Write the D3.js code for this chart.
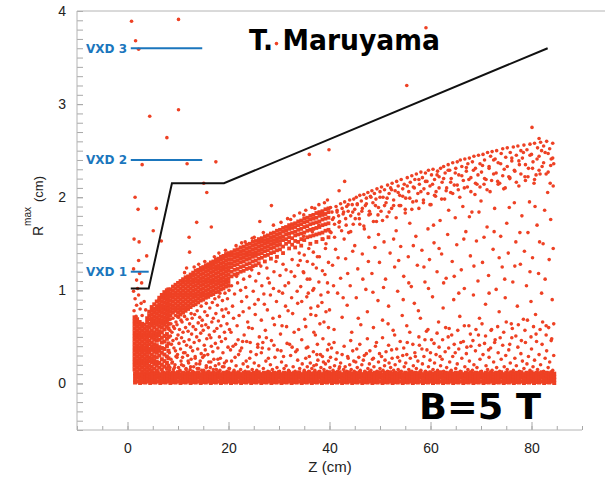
<!DOCTYPE html>
<html><head><meta charset="utf-8">
<script src="https://cdn.jsdelivr.net/npm/d3@7"></script>
<style>html,body{margin:0;padding:0;background:#fff;}svg{display:block;}</style>
</head><body>
<svg id="chart" width="605" height="477"></svg>
<script>
// ---------------- DATA ----------------
const xTickValues = [0, 20, 40, 60, 80];
const yTickValues = [0, 1, 2, 3, 4];
const layerNames = ["VXD 1", "VXD 2", "VXD 3"];
const layerRadii = [1.2, 2.4, 3.6];
const layerZStart = [0.65, 0.65, 0.65];
const layerZEnd = [4.2, 14.8, 14.8];
const boundaryZ = [0.65, 4.2, 8.8, 19.1, 83.2];
const boundaryR = [1.02, 1.02, 2.15, 2.15, 3.6];

// column format: [z, r1, r2, ...]
const bandColumns = [
[1.5,.01,.04,.08,.11],[2,.02,.06,.09,.12],[2.5,.005,.035,.07,.1],[3,.015,.05,.085,.115],[3.5,.01,.045,.075,.11],[4,.02,.055,.09,.12],[4.5,.005,.04,.07,.105],[5,.015,.05,.08,.115],
[5.5,.01,.04,.08,.11],[6,.02,.06,.09,.12],[6.5,.005,.035,.07,.1],[7,.015,.05,.085,.115],[7.5,.01,.045,.075,.11],[8,.02,.055,.09,.12],[8.5,.005,.04,.07,.105],[9,.015,.05,.08,.115],
[9.5,.01,.04,.08,.11],[10,.02,.06,.09,.12],[10.5,.005,.035,.07,.1],[11,.015,.05,.085,.115],[11.5,.01,.045,.075,.11],[12,.02,.055,.09,.12],[12.5,.005,.04,.07,.105],[13,.015,.05,.08,.115],
[13.5,.01,.04,.08,.11],[14,.02,.06,.09,.12],[14.5,.005,.035,.07,.1],[15,.015,.05,.085,.115],[15.5,.01,.045,.075,.11],[16,.02,.055,.09,.12],[16.5,.005,.04,.07,.105],[17,.015,.05,.08,.115],
[17.5,.01,.04,.08,.11],[18,.02,.06,.09,.12],[18.5,.005,.035,.07,.1],[19,.015,.05,.085,.115],[19.5,.01,.045,.075,.11],[20,.02,.055,.09,.12],[20.5,.005,.04,.07,.105],[21,.015,.05,.08,.115],
[21.5,.01,.04,.08,.11],[22,.02,.06,.09,.12],[22.5,.005,.035,.07,.1],[23,.015,.05,.085,.115],[23.5,.01,.045,.075,.11],[24,.02,.055,.09,.12],[24.5,.005,.04,.07,.105],[25,.015,.05,.08,.115],
[25.5,.01,.04,.08,.11],[26,.02,.06,.09,.12],[26.5,.005,.035,.07,.1],[27,.015,.05,.085,.115],[27.5,.01,.045,.075,.11],[28,.02,.055,.09,.12],[28.5,.005,.04,.07,.105],[29,.015,.05,.08,.115],
[29.5,.01,.04,.08,.11],[30,.02,.06,.09,.12],[30.5,.005,.035,.07,.1],[31,.015,.05,.085,.115],[31.5,.01,.045,.075,.11],[32,.02,.055,.09,.12],[32.5,.005,.04,.07,.105],[33,.015,.05,.08,.115],
[33.5,.01,.04,.08,.11],[34,.02,.06,.09,.12],[34.5,.005,.035,.07,.1],[35,.015,.05,.085,.115],[35.5,.01,.045,.075,.11],[36,.02,.055,.09,.12],[36.5,.005,.04,.07,.105],[37,.015,.05,.08,.115],
[37.5,.01,.04,.08,.11],[38,.02,.06,.09,.12],[38.5,.005,.035,.07,.1],[39,.015,.05,.085,.115],[39.5,.01,.045,.075,.11],[40,.02,.055,.09,.12],[40.5,.005,.04,.07,.105],[41,.015,.05,.08,.115],
[41.5,.01,.04,.08,.11],[42,.02,.06,.09,.12],[42.5,.005,.035,.07,.1],[43,.015,.05,.085,.115],[43.5,.01,.045,.075,.11],[44,.02,.055,.09,.12],[44.5,.005,.04,.07,.105],[45,.015,.05,.08,.115],
[45.5,.01,.04,.08,.11],[46,.02,.06,.09,.12],[46.5,.005,.035,.07,.1],[47,.015,.05,.085,.115],[47.5,.01,.045,.075,.11],[48,.02,.055,.09,.12],[48.5,.005,.04,.07,.105],[49,.015,.05,.08,.115],
[49.5,.01,.04,.08,.11],[50,.02,.06,.09,.12],[50.5,.005,.035,.07,.1],[51,.015,.05,.085,.115],[51.5,.01,.045,.075,.11],[52,.02,.055,.09,.12],[52.5,.005,.04,.07,.105],[53,.015,.05,.08,.115],
[53.5,.01,.04,.08,.11],[54,.02,.06,.09,.12],[54.5,.005,.035,.07,.1],[55,.015,.05,.085,.115],[55.5,.01,.045,.075,.11],[56,.02,.055,.09,.12],[56.5,.005,.04,.07,.105],[57,.015,.05,.08,.115],
[57.5,.01,.04,.08,.11],[58,.02,.06,.09,.12],[58.5,.005,.035,.07,.1],[59,.015,.05,.085,.115],[59.5,.01,.045,.075,.11],[60,.02,.055,.09,.12],[60.5,.005,.04,.07,.105],[61,.015,.05,.08,.115],
[61.5,.01,.04,.08,.11],[62,.02,.06,.09,.12],[62.5,.005,.035,.07,.1],[63,.015,.05,.085,.115],[63.5,.01,.045,.075,.11],[64,.02,.055,.09,.12],[64.5,.005,.04,.07,.105],[65,.015,.05,.08,.115],
[65.5,.01,.04,.08,.11],[66,.02,.06,.09,.12],[66.5,.005,.035,.07,.1],[67,.015,.05,.085,.115],[67.5,.01,.045,.075,.11],[68,.02,.055,.09,.12],[68.5,.005,.04,.07,.105],[69,.015,.05,.08,.115],
[69.5,.01,.04,.08,.11],[70,.02,.06,.09,.12],[70.5,.005,.035,.07,.1],[71,.015,.05,.085,.115],[71.5,.01,.045,.075,.11],[72,.02,.055,.09,.12],[72.5,.005,.04,.07,.105],[73,.015,.05,.08,.115],
[73.5,.01,.04,.08,.11],[74,.02,.06,.09,.12],[74.5,.005,.035,.07,.1],[75,.015,.05,.085,.115],[75.5,.01,.045,.075,.11],[76,.02,.055,.09,.12],[76.5,.005,.04,.07,.105],[77,.015,.05,.08,.115],
[77.5,.01,.04,.08,.11],[78,.02,.06,.09,.12],[78.5,.005,.035,.07,.1],[79,.015,.05,.085,.115],[79.5,.01,.045,.075,.11],[80,.02,.055,.09,.12],[80.5,.005,.04,.07,.105],[81,.015,.05,.08,.115],
[81.5,.01,.04,.08,.11],[82,.02,.06,.09,.12],[82.5,.005,.035,.07,.1],[83,.015,.05,.085,.115],[83.5,.01,.045,.075,.11],[84,.02,.055,.09,.12],[84.5,.005,.04,.07,.105]
];

const coreColumns = [
[1.4,.15,.19,.23,.27,.31,.35,.39,.43,.47,.51,.55,.59,.63,.67,.71],
[1.9,.13,.17,.21,.25,.29,.33,.37,.41,.45,.49,.53,.57,.61,.65,.69],
[2.4,.15,.19,.23,.27,.31,.35,.39,.43,.47,.51,.55,.59,.63,.66],
[2.9,.13,.17,.21,.25,.29,.33,.37,.41,.45,.49,.53,.57,.61,.64],
[3.4,.15,.19,.23,.27,.31,.35,.39,.43,.47,.51,.55,.59,.63],
[3.9,.13,.17,.21,.25,.29,.33,.37,.41,.45,.49,.53,.57,.61,.66,.70],
[4.3,.15,.19,.24,.28,.33,.37,.42,.46,.51,.55,.60,.64,.69,.73,.77],
[4.8,.14,.18,.23,.27,.31,.36,.40,.44,.49,.53,.57,.62,.66,.70,.74,.78,.82],
[5.3,.16,.21,.25,.29,.34,.38,.42,.47,.51,.55,.60,.64,.68,.72,.76,.80,.85],
[5.8,.14,.19,.23,.28,.33,.37,.41,.46,.50,.54,.58,.63,.67,.71,.75,.79,.83,.88],
[6.3,.17,.22,.30,.35,.39,.47,.52,.56,.61,.65,.69,.73,.77,.81,.85,.89,.92],
[6.8,.15,.20,.26,.33,.38,.44,.49,.55,.60,.64,.68,.72,.76,.80,.84,.88,.92,.95],
[7.3,.18,.24,.31,.37,.45,.51,.58,.63,.67,.71,.75,.79,.83,.87,.91,.95,.98],
[7.8,.16,.22,.29,.40,.48,.53,.61,.66,.70,.74,.78,.82,.86,.90,.94,.98,1.00],
[8.1,.19,.27,.35,.43,.50,.59,.64,.69,.73,.77,.81,.85,.89,.93,.97,1.01]
];

const envelopeColumns = [
[8.5,.73,.77,.81,.85,.89,.93,.97,1.01],
[9,.76,.80,.84,.88,.92,.96,1.00,1.04],
[9.5,.78,.82,.86,.90,.94,.98,1.02,1.06],
[10,.72,.76,.80,.84,.88,.92,.96,1.00,1.04,1.08],
[10.5,.74,.78,.82,.86,.90,.94,.98,1.02,1.06,1.10],
[11,.76,.80,.84,.88,.92,.96,1.00,1.04,1.08,1.12],
[11.5,.78,.82,.86,.90,.94,.98,1.02,1.06,1.10,1.14],
[12,.80,.84,.88,.92,.96,1.00,1.04,1.08,1.12,1.15],
[12.5,.82,.86,.90,.94,.98,1.02,1.06,1.10,1.14,1.17],
[13,.84,.88,.92,.96,1.00,1.04,1.08,1.12,1.16,1.19],
[13.5,.85,.89,.93,.97,1.01,1.05,1.09,1.13,1.17,1.21],
[14,.87,.91,.95,.99,1.03,1.07,1.11,1.15,1.19,1.22],
[14.5,.89,.93,.97,1.01,1.05,1.09,1.13,1.17,1.21,1.24],
[15,.90,.94,.98,1.02,1.06,1.10,1.14,1.18,1.22,1.25],
[15.5,.92,.96,1.00,1.04,1.08,1.12,1.16,1.20,1.24,1.27],
[16,.93,.97,1.01,1.05,1.09,1.13,1.17,1.21,1.25,1.28],
[16.5,.95,.99,1.03,1.07,1.11,1.15,1.19,1.23,1.27,1.30],
[17,.96,1.00,1.04,1.08,1.12,1.16,1.20,1.24,1.28,1.31],
[17.5,.98,1.02,1.06,1.10,1.14,1.18,1.22,1.26,1.30,1.33],
[18,.99,1.03,1.07,1.11,1.15,1.19,1.23,1.27,1.31,1.34],
[18.5,1.01,1.05,1.09,1.13,1.17,1.21,1.25,1.29,1.33,1.36],
[19,1.02,1.06,1.10,1.14,1.18,1.22,1.26,1.30,1.34,1.37],
[19.5,1.04,1.08,1.12,1.16,1.20,1.24,1.28,1.32,1.36,1.39],
[20,1.05,1.09,1.13,1.17,1.21,1.25,1.29,1.33,1.37,1.40],
[20.6,1.15,1.20,1.25,1.29,1.33,1.37,1.41],
[21.2,1.17,1.22,1.27,1.31,1.35,1.39,1.43],
[21.8,1.18,1.23,1.28,1.32,1.36,1.40,1.44],
[22.4,1.20,1.25,1.30,1.34,1.38,1.42,1.46],
[23,1.21,1.26,1.31,1.35,1.39,1.43,1.47],
[23.6,1.23,1.28,1.33,1.37,1.41,1.45,1.49],
[24.2,1.24,1.29,1.34,1.38,1.42,1.46,1.50],
[24.8,1.26,1.31,1.36,1.40,1.44,1.48,1.52],
[25.4,1.27,1.32,1.37,1.41,1.45,1.49,1.53],
[26,1.29,1.34,1.39,1.43,1.47,1.51,1.55],
[26.6,1.35,1.40,1.44,1.48,1.52,1.56],
[27.2,1.31,1.37,1.42,1.46,1.50,1.54,1.58],
[27.8,1.38,1.43,1.47,1.51,1.55,1.59],
[28.4,1.34,1.40,1.45,1.49,1.53,1.57,1.61],
[29,1.41,1.46,1.50,1.54,1.58,1.62],
[29.6,1.36,1.43,1.48,1.52,1.56,1.60,1.64],
[30.2,1.44,1.49,1.53,1.57,1.61,1.65],
[30.8,1.40,1.47,1.54,1.58,1.63,1.67],
[31.4,1.50,1.55,1.60,1.64,1.68],
[32,1.45,1.52,1.57,1.61,1.66,1.70],
[32.6,1.49,1.56,1.62,1.67,1.71],
[33.2,1.46,1.53,1.59,1.63,1.68,1.72],
[33.8,1.52,1.60,1.65,1.70,1.74],
[34.4,1.48,1.55,1.61,1.66,1.71,1.75],
[35,1.54,1.62,1.68,1.73,1.77],
[35.6,1.57,1.64,1.69,1.74,1.78],
[36.2,1.50,1.58,1.65,1.71,1.76,1.80],
[36.8,1.59,1.66,1.72,1.77,1.81],
[37.4,1.52,1.60,1.67,1.73,1.78,1.83],
[38,1.61,1.68,1.74,1.80,1.84],
[38.6,1.55,1.62,1.70,1.76,1.81,1.85],
[39.2,1.64,1.71,1.77,1.82,1.87],
[39.8,1.57,1.65,1.72,1.78,1.84,1.88]
];

// flat pairs: z, r, z, r, ...
const columnTopPoints = [1.3,.78, 1.8,.84, 2.5,.80, 1.5,.91, 2.9,.73, 2.2,.95, 3.3,.88, 1.2,.99, 2.7,.86, 1.7,.72, 3.6,.79, 2.0,1.02];

const edgePoints = [
11.3,1.19, 13.2,1.25, 15.3,1.31, 17.2,1.36, 19.4,1.43, 21.5,1.48, 23.3,1.52, 25.1,1.57, 26.9,1.62, 14.1,1.28,
18.1,1.40, 22.6,1.51, 24.7,1.56, 28.9,1.70, 30.4,1.73, 31.7,1.77, 33.0,1.80, 34.1,1.83, 35.3,1.86, 36.5,1.89,
37.9,1.92, 39.0,1.94, 39.6,1.97, 32.3,1.76, 34.9,1.81, 37.1,1.88
];

const innerPoints = [
8.4,.17, 8.6,.26, 8.3,.33, 8.7,.42, 8.5,.51, 8.4,.57, 8.6,.64, 8.5,.69,
9.1,.15, 8.9,.23, 9.2,.38, 9.0,.46, 8.8,.55, 9.1,.61, 9.0,.70,
9.4,.20, 9.6,.29, 9.5,.35, 9.7,.48, 9.3,.59, 9.6,.66, 9.5,.73,
10.1,.17, 9.9,.31, 10.2,.43, 10.0,.52, 9.8,.63, 10.1,.71,
10.4,.14, 10.6,.24, 10.5,.37, 10.7,.49, 10.3,.58, 10.6,.68,
11.1,.19, 10.9,.28, 11.2,.45, 11.0,.55, 10.8,.66,
11.6,.16, 11.4,.33, 11.7,.41, 11.5,.60, 11.3,.72,
12.1,.22, 11.9,.30, 12.2,.47, 12.0,.56, 11.8,.69,
12.4,.15, 12.6,.26, 12.5,.39, 12.7,.53, 12.3,.64, 12.6,.75,
13.1,.18, 12.9,.35, 13.2,.44, 13.0,.61, 12.8,.70,
13.6,.21, 13.4,.29, 13.7,.50, 13.5,.58, 13.3,.74,
14.1,.16, 13.9,.37, 14.2,.46, 14.0,.65, 13.8,.78,
14.4,.24, 14.6,.32, 14.5,.54, 14.7,.62, 14.3,.71, 14.6,.83,
15.1,.14, 14.9,.28, 15.2,.41, 15.0,.57, 14.8,.68,
15.6,.19, 15.4,.36, 15.7,.48, 15.5,.63, 15.3,.77, 15.6,.86,
16.1,.23, 15.9,.31, 16.2,.52, 16.0,.60, 15.8,.73,
16.4,.17, 16.6,.40, 16.5,.49, 16.7,.66, 16.3,.81,
17.1,.26, 16.9,.34, 17.2,.56, 17.0,.70, 16.8,.87,
17.6,.15, 17.4,.43, 17.7,.59, 17.5,.75, 17.3,.91,
18.1,.21, 17.9,.38, 18.2,.50, 18.0,.67, 17.8,.84, 18.1,.93,
18.4,.27, 18.6,.45, 18.5,.62, 18.7,.79, 18.3,.97,
19.1,.18, 18.9,.33, 19.2,.55, 19.0,.72, 18.8,.89,
19.6,.24, 19.4,.48, 19.7,.64, 19.5,.80, 19.3,.97,
20.1,.16, 19.9,.39, 20.2,.58, 20.0,.76, 19.8,.91, 20.1,1.0,
20.5,.55, 20.8,.83, 20.6,1.05, 21.3,.28, 21.0,.70, 21.2,.96,
21.9,.47, 21.7,.62, 21.8,1.08, 22.3,.35, 22.6,.88, 22.4,1.00,
23.1,.52, 22.9,.77, 23.0,1.12, 23.5,.24, 23.8,.66, 23.6,.93,
24.3,.44, 24.1,.81, 24.2,1.15, 24.7,.59, 24.9,.99,
25.5,.31, 25.3,.74, 25.4,1.10, 26.1,.50, 25.9,.90, 26.0,1.18,
26.7,.38, 26.5,.68, 26.6,1.05, 27.3,.57, 27.1,.85,
27.9,.27, 27.7,.79, 27.8,1.13, 27.6,1.24, 28.5,.46, 28.3,.95,
29.1,.63, 28.9,1.02, 29.0,1.20, 29.7,.36, 29.5,.88,
30.3,.53, 30.1,.72, 30.2,1.16, 30.9,.29, 30.7,.97, 30.8,1.28,
31.5,.61, 31.3,.83, 31.4,1.22, 32.1,.42, 31.9,1.08,
32.7,.75, 32.5,.92, 32.6,1.33, 33.3,.34, 33.1,1.15,
33.9,.58, 33.7,.86, 33.8,1.27, 34.5,.47, 34.3,1.04,
35.1,.69, 34.9,1.19, 35.0,1.38, 35.7,.39, 35.5,.93, 35.6,1.31,
36.3,.81, 36.1,1.12, 36.9,.55, 36.7,1.00, 36.8,1.41,
37.5,.31, 37.3,.73, 37.4,1.24, 38.1,.64, 37.9,1.09, 38.0,1.36,
38.7,.48, 38.5,.87, 39.3,.77, 39.1,1.17, 39.2,1.45,
39.9,.42, 39.7,.98, 39.8,1.30,
20.9,.40, 21.6,1.15, 22.1,.73, 22.8,.45, 23.4,1.03, 24.0,.60, 24.6,1.22, 25.2,.85,
25.8,.42, 26.4,1.26, 27.0,.96, 27.5,.49, 28.1,1.08, 28.8,.70, 29.4,1.31, 30.0,.99,
30.6,.62, 31.2,1.05, 31.8,.78, 32.4,1.20, 33.0,.55, 33.6,.99, 34.0,1.40
];

const nearBandPoints = [
8.3,.14, 8.8,.22, 9.3,.17, 9.8,.28, 10.2,.13, 10.7,.20, 11.1,.33, 11.6,.15, 12.0,.24, 12.5,.18,
12.9,.13, 13.4,.27, 13.8,.16, 14.3,.21, 14.7,.14, 15.2,.30, 15.6,.17, 16.1,.13, 16.5,.23, 17.0,.15,
17.4,.19, 17.9,.26, 18.3,.14, 18.8,.18, 19.2,.22, 19.7,.13,
20.2,.16, 20.6,.24, 21.1,.14, 21.5,.19, 22.0,.31, 22.4,.15, 22.9,.21, 23.3,.13, 23.8,.18, 24.2,.27,
24.7,.15, 25.1,.22, 25.6,.14, 26.0,.19, 26.5,.33, 26.9,.16, 27.4,.24, 27.8,.13, 28.3,.20, 28.7,.15,
29.2,.28, 29.6,.17, 30.1,.13, 30.5,.23, 31.0,.16, 31.4,.19, 31.9,.14, 32.3,.30, 32.8,.18, 33.2,.13,
33.7,.25, 34.1,.16, 34.6,.21,
20.4,.36, 21.4,.42, 22.6,.38, 23.6,.45, 24.4,.34, 25.8,.39, 26.8,.44, 28.0,.37, 29.0,.41, 30.4,.35,
31.6,.43, 32.6,.39, 33.6,.36,
35.0,.14, 35.3,.27, 35.6,.18, 35.9,.13, 36.2,.22, 36.5,.16, 36.8,.34, 37.1,.14, 37.4,.20, 37.7,.25,
38.0,.13, 38.3,.17, 38.6,.29, 38.9,.15, 39.2,.21, 39.5,.13, 39.8,.24, 40.1,.17, 40.4,.38, 40.7,.14,
41.0,.19, 41.3,.26, 41.6,.13, 41.9,.16, 42.2,.22, 42.5,.31, 42.8,.15, 43.1,.18, 43.4,.13, 43.7,.27,
44.0,.20, 44.3,.15, 44.6,.35, 44.9,.13, 45.2,.23, 45.5,.17, 45.8,.28, 46.1,.14, 46.4,.20, 46.7,.25,
47.0,.13, 47.3,.32, 47.6,.16, 47.9,.21, 48.2,.14, 48.5,.26, 48.8,.18, 49.1,.40, 49.4,.13, 49.7,.23,
50.0,.16, 50.3,.29, 50.6,.14, 50.9,.19, 51.2,.34, 51.5,.13, 51.8,.22, 52.1,.17, 52.4,.27, 52.7,.14,
53.0,.20, 53.3,.37, 53.6,.15, 53.9,.24, 54.2,.13, 54.5,.30, 54.8,.18, 55.1,.22, 55.4,.44, 55.7,.15,
56.0,.27, 56.3,.13, 56.6,.19, 56.9,.33, 57.2,.16, 57.5,.24, 57.8,.41, 58.1,.14, 58.4,.21, 58.7,.29,
59.0,.13, 59.3,.36, 59.6,.18, 59.9,.25, 60.2,.47, 60.5,.15, 60.8,.22, 61.1,.31, 61.4,.14, 61.7,.39,
62.0,.19, 62.3,.26, 62.6,.13, 62.9,.34, 63.2,.17, 63.5,.50, 63.8,.23, 64.1,.14, 64.4,.29, 64.7,.42,
65.0,.16, 65.3,.21, 65.6,.37, 65.9,.13, 66.2,.27, 66.5,.45, 66.8,.18, 67.1,.32, 67.4,.15, 67.7,.24,
68.0,.40, 68.3,.14, 68.6,.20, 68.9,.35, 69.2,.17, 69.5,.52, 69.8,.26, 70.1,.13, 70.4,.31, 70.7,.43,
71.0,.19, 71.3,.15, 71.6,.28, 71.9,.38, 72.2,.14, 72.5,.23, 72.8,.47, 73.1,.17, 73.4,.33, 73.7,.13,
74.0,.26, 74.3,.41, 74.6,.18, 74.9,.30, 75.2,.15, 75.5,.36, 75.8,.22, 76.1,.49, 76.4,.14, 76.7,.27,
77.0,.19, 77.3,.39, 77.6,.13, 77.9,.32, 78.2,.24, 78.5,.16, 78.8,.44, 79.1,.21, 79.4,.29, 79.7,.14,
80.0,.37, 80.3,.18, 80.6,.25, 80.9,.53, 81.2,.15, 81.5,.31, 81.8,.20, 82.1,.42, 82.4,.13, 82.7,.27,
83.0,.35, 83.3,.17, 83.6,.23, 83.9,.46, 84.2,.14, 84.4,.30,
35.4,.38, 36.0,.29, 36.9,.19, 37.6,.42, 38.2,.31, 38.8,.23, 39.6,.36, 40.2,.28, 40.9,.44, 41.5,.33,
42.0,.18, 42.9,.40, 43.6,.29, 44.2,.46, 44.8,.24, 45.4,.37, 46.0,.42, 46.9,.30, 47.5,.48, 48.0,.35,
48.7,.27, 49.3,.44, 49.9,.32, 50.5,.49, 51.0,.25, 51.7,.41, 52.3,.36, 52.9,.52, 53.5,.28, 54.0,.45,
54.7,.38, 55.3,.31, 55.9,.55, 56.5,.42, 57.0,.29, 57.7,.50, 58.3,.37, 58.9,.47, 59.5,.58, 60.0,.33,
60.7,.43, 61.3,.54, 61.9,.29, 62.4,.47, 63.0,.60, 63.6,.38, 64.2,.52, 64.9,.33, 65.4,.57, 66.0,.44,
66.7,.62, 67.2,.39, 67.9,.53, 68.4,.46, 69.0,.58, 69.7,.41, 70.2,.64, 70.9,.51, 71.5,.36, 72.0,.57,
72.7,.44, 73.3,.61, 73.8,.49, 74.5,.55, 75.0,.66, 75.7,.42, 76.2,.59, 76.9,.51, 77.4,.63, 78.0,.46,
78.7,.57, 79.2,.68, 79.9,.50, 80.4,.61, 81.0,.45, 81.7,.58, 82.2,.66, 82.9,.52, 83.4,.60, 84.0,.48, 84.4,.64
];

const outerEnvelopePoints = [
40.2,1.89, 40.5,1.84, 40.8,1.78, 41.0,1.71, 41.3,1.90, 41.5,1.86, 41.8,1.80, 42.0,1.74, 42.2,1.93, 42.5,1.88,
42.7,1.82, 43.0,1.95, 43.2,1.77, 43.4,1.90, 43.7,1.85, 44.0,1.97, 44.2,1.80, 44.5,1.92,
44.8,1.98, 45.0,1.87, 45.3,2.00, 45.5,1.93, 45.8,1.82, 46.0,2.02, 46.3,1.96, 46.5,1.88, 46.8,2.03, 47.1,1.91,
47.3,1.99, 47.6,2.05, 47.9,1.85, 48.1,2.01, 48.4,2.07, 48.6,1.94, 48.9,2.04, 49.2,1.98, 49.4,2.09, 49.7,1.89, 50.0,2.06,
50.3,2.11, 50.6,2.00, 50.9,2.08, 51.2,1.94, 51.5,2.13, 51.8,2.04, 52.1,2.10, 52.4,2.15, 52.7,1.97, 53.0,2.07,
53.3,2.17, 53.6,2.12, 53.9,2.02, 54.2,2.19, 54.5,2.09, 54.8,2.14, 55.1,1.99, 55.4,2.21, 55.7,2.06, 56.0,2.16,
56.3,2.23, 56.6,2.11, 56.9,2.19, 57.2,2.25, 57.5,2.04, 57.8,2.14, 58.1,2.27, 58.4,2.21, 58.7,2.09, 59.0,2.26,
59.3,2.17, 59.6,2.29, 59.9,2.12, 60.2,2.24, 60.5,2.30, 60.8,2.19, 61.1,2.06, 61.4,2.28, 61.7,2.22, 62.0,2.31,
62.3,2.16, 62.6,2.33, 62.9,2.26, 63.2,2.10, 63.5,2.35, 63.8,2.29, 64.1,2.20, 64.4,2.37, 64.7,2.13, 65.0,2.31,
65.3,2.38, 65.6,2.24, 65.9,2.40, 66.2,2.33, 66.5,2.18, 66.8,2.41, 67.1,2.28, 67.4,2.36, 67.7,2.42, 68.0,2.21,
68.3,2.38, 68.6,2.44, 68.9,2.31, 69.2,2.14, 69.5,2.45, 69.8,2.36,
70.1,2.27, 70.4,2.46, 70.7,2.40, 71.0,2.19, 71.3,2.48, 71.6,2.33, 71.9,2.44, 72.2,2.49, 72.5,2.25, 72.8,2.41,
73.1,2.50, 73.4,2.37, 73.7,2.15, 74.0,2.47, 74.3,2.52, 74.6,2.30, 74.9,2.43, 75.2,2.53, 75.5,2.22, 75.8,2.48,
76.1,2.39, 76.4,2.54, 76.7,2.28, 77.0,2.45, 77.3,2.55, 77.6,2.35, 77.9,2.50,
78.2,2.42, 78.5,2.56, 78.8,2.18, 79.1,2.51, 79.4,2.31, 79.7,2.57, 80.0,2.46, 80.3,2.38, 80.6,2.58, 80.9,2.24,
81.2,2.53, 81.5,2.44, 81.8,2.59, 82.1,2.33, 82.4,2.55, 82.7,2.48, 83.0,2.60, 83.3,2.27, 83.6,2.52, 83.9,2.41,
84.2,2.58, 84.4,2.36, 84.3,2.12,
40.1,1.63, 40.6,1.76, 41.0,1.57, 41.5,1.84, 41.9,1.73, 42.4,1.64, 42.8,1.84, 43.3,1.70, 43.7,1.92, 44.2,1.63,
44.6,1.84, 45.1,1.77, 45.5,1.92, 46.0,1.71, 46.4,1.85, 46.9,1.66, 47.3,1.93, 47.8,1.81, 48.2,2.00, 48.7,1.74,
49.1,1.91, 49.6,1.81, 50.0,2.00, 50.5,1.75, 50.9,1.91, 51.4,1.99, 51.8,1.84, 52.3,2.08, 52.7,1.91, 53.2,1.78,
53.6,2.05, 54.1,1.91, 54.5,2.01, 55.0,1.87, 55.4,2.12, 55.9,1.99, 56.3,1.87, 56.8,2.10, 57.2,1.96, 57.7,2.19,
58.1,2.06, 58.6,1.94, 59.0,2.17, 59.5,2.04, 59.9,1.92, 60.4,2.14, 60.8,2.02, 61.3,2.24, 61.7,2.10, 62.2,1.98,
62.6,2.20, 63.1,2.07, 63.5,2.29, 64.0,2.16, 64.4,2.04, 64.9,2.26, 65.3,2.13, 65.8,2.00, 66.2,2.23, 66.7,2.10,
67.1,2.32, 67.6,2.19, 68.0,2.06, 68.5,2.29, 68.9,2.15, 69.4,2.24, 69.8,2.11, 70.3,2.34, 70.7,2.20, 71.2,2.08,
71.6,2.31, 72.1,2.18, 72.5,2.40, 73.0,2.26, 73.4,2.14, 73.9,2.36, 74.3,2.23, 74.8,2.10, 75.2,2.33, 75.7,2.21,
76.1,2.42, 76.6,2.29, 77.0,2.16, 77.5,2.39, 77.9,2.25, 78.4,2.48, 78.8,2.35, 79.3,2.22, 79.7,2.45, 80.2,2.31,
80.6,2.19, 81.1,2.41, 81.5,2.29, 82.0,2.50, 82.4,2.37, 82.9,2.25, 83.3,2.47, 83.8,2.34, 84.2,2.42
];

const outerInteriorPoints = [
34.2,1.32, 34.5,.88, 34.9,1.58, 35.3,.61, 35.6,1.12, 35.9,1.45, 36.3,.74, 36.6,1.63, 36.9,1.02, 37.2,.52,
37.6,1.36, 37.9,1.70, 38.3,.95, 38.6,1.21, 38.9,.66, 39.3,1.50, 39.6,1.08, 40.0,.79, 40.3,1.62, 40.6,1.27,
40.9,.58, 41.2,1.44, 41.6,.97, 41.9,1.68, 42.2,1.13, 42.5,.71, 42.9,1.55, 43.2,1.34, 43.5,.84, 43.8,1.62,
44.1,1.05, 44.4,.55, 44.7,1.71, 45.0,1.48, 45.3,.92, 45.6,1.23, 45.9,1.77, 46.2,.63, 46.5,1.39, 46.8,1.69,
47.2,1.01, 47.5,.77, 47.8,1.57, 48.1,1.82, 48.4,1.18, 48.7,.60, 49.0,1.46, 49.3,1.74, 49.6,.89, 49.9,1.30,
50.2,1.85, 50.5,.68, 50.8,1.52, 51.1,1.12, 51.4,1.79, 51.7,.83, 52.0,1.40, 52.3,1.88, 52.6,.57, 52.9,1.25,
53.2,1.64, 53.5,.99, 53.8,1.91, 54.1,1.47, 54.4,.73, 54.7,1.15, 55.0,1.83, 55.3,.62, 55.6,1.36, 55.9,1.72,
56.2,1.04, 56.5,1.95, 56.8,.86, 57.1,1.58, 57.4,1.27, 57.7,1.88, 58.0,.70, 58.3,1.43, 58.6,1.97, 58.9,1.09,
59.2,.56, 59.5,1.66, 59.8,1.33, 60.1,1.92, 60.4,.93, 60.7,1.51, 61.0,2.01, 61.3,1.20, 61.6,.66, 61.9,1.75,
62.2,1.39, 62.5,.81, 62.8,1.98, 63.1,1.13, 63.4,1.60, 63.7,.59, 64.0,2.05, 64.3,1.31, 64.6,.90, 64.9,1.78,
65.2,1.49, 65.5,2.08, 65.8,.72, 66.1,1.22, 66.4,1.90, 66.7,1.02, 67.0,1.63, 67.3,2.11, 67.6,.62, 67.9,1.37,
68.2,1.84, 68.5,.95, 68.8,2.03, 69.1,1.53, 69.4,1.10, 69.7,.70, 70.0,1.96, 70.3,1.30, 70.6,2.14, 70.9,.85,
71.2,1.68, 71.5,1.16, 71.8,2.06, 72.1,.58, 72.4,1.44, 72.7,1.88, 73.0,1.01, 73.3,2.17, 73.6,.77, 73.9,1.58,
74.2,1.25, 74.5,2.09, 74.8,.92, 75.1,1.72, 75.4,1.40, 75.7,2.20, 76.0,.64, 76.3,1.09, 76.6,1.94, 76.9,1.52,
77.2,.83, 77.5,2.12, 77.8,1.28, 78.1,1.80, 78.4,.69, 78.7,2.22, 79.0,1.05, 79.3,1.62, 79.6,1.95, 79.9,.88,
80.2,1.35, 80.5,2.15, 80.8,.74, 81.1,1.70, 81.4,1.18, 81.7,2.25, 82.0,.97, 82.3,1.50, 82.6,1.86, 82.9,.62,
83.2,2.05, 83.5,1.33, 83.8,1.76, 84.1,.90, 84.3,1.45,
34.8,1.20, 35.8,.97, 36.7,1.28, 37.7,.83, 38.7,1.55, 39.8,.60, 40.8,1.05, 41.7,1.35, 42.7,.92, 43.6,1.18,
44.6,1.42, 45.7,.70, 46.6,1.12, 47.7,1.31, 48.6,.98, 49.7,1.60, 50.7,1.03, 51.6,.64, 52.7,1.55, 53.7,1.32,
54.6,.90, 55.7,1.08, 56.6,1.48, 57.6,.78, 58.7,1.25, 59.6,1.02, 60.6,1.70, 61.7,1.45, 62.6,1.08, 63.6,1.86,
64.7,1.15, 65.6,.97, 66.6,1.55, 67.7,1.79, 68.6,1.26, 69.6,1.84, 70.6,1.57, 71.6,.97, 72.6,1.63, 73.6,1.35,
74.7,1.12, 75.6,1.89, 76.7,1.26, 77.7,1.62, 78.6,1.42, 79.7,1.20, 80.7,1.90, 81.6,1.52, 82.7,1.12, 83.7,2.15
];

const strayPoints = [
0.8,3.89, 10.1,3.91, 1.6,3.68, 2.2,3.59, 4.4,2.87, 10.1,2.94, 7.8,2.64, 2.9,2.35, 11.8,2.36, 17.5,2.38,
15.1,2.15, 15.7,2.05, 1.5,2.0, 29.5,3.65, 36.0,2.46, 59.1,3.82, 55.3,3.2, 39.9,2.51, 80.1,2.75, 43.0,2.17,
41.9,2.07, 81.5,2.63, 2.1,1.87, 5.7,1.88, 5.1,1.64, 1.3,1.55, 2.3,1.52, 6.7,1.53, 13.7,1.73, 16.6,1.68,
12.2,1.57, 12.3,1.41, 3.8,1.37, 2.2,1.32, 1.2,1.23, 2.4,1.18, 1.8,1.11, 2.8,1.08, 11.7,1.24, 28.5,1.91, 26.2,1.74
];

// ---------------- CHART ----------------
const svg = d3.select("#chart");
const x = d3.scaleLinear().domain([-10, 90]).range([77, 582]);
const y = d3.scaleLinear().domain([-0.5, 4]).range([430, 11]);
const red = "#ee4124";
const blue = "#1b76bd";
const frameCol = "#b4b4b4";
const labelFont = "'Liberation Sans', Arial, sans-serif";

function colsToPts(cols) {
  const out = [];
  cols.forEach(c => c.slice(1).forEach(r => out.push([c[0], r])));
  return out;
}
function pairsToPts(a) {
  const out = [];
  for (let i = 0; i < a.length; i += 2) out.push([a[i], a[i + 1]]);
  return out;
}
// dense series drawn as small squares that tile, sparse as dots
const denseSeries = [
  { pts: colsToPts(bandColumns), s: 4 },
  { pts: colsToPts(coreColumns), s: 4 },
  { pts: colsToPts(envelopeColumns), s: 3.8 }
];
const sparseSeries = [columnTopPoints, edgePoints, innerPoints, nearBandPoints,
  outerEnvelopePoints, outerInteriorPoints, strayPoints].map(pairsToPts);

const scatterG = svg.append("g");
denseSeries.forEach(sr => {
  scatterG.append("g").selectAll("rect").data(sr.pts).join("rect")
    .attr("x", d => x(d[0]) - sr.s / 2).attr("y", d => y(d[1]) - sr.s / 2)
    .attr("width", sr.s).attr("height", sr.s).attr("fill", red);
});
sparseSeries.forEach(p => {
  scatterG.append("g").selectAll("circle").data(p).join("circle")
    .attr("cx", d => x(d[0])).attr("cy", d => y(d[1]))
    .attr("r", 1.8).attr("fill", red);
});

// axes
const xMinor = svg.append("g").attr("transform", "translate(0,430)")
  .call(d3.axisBottom(x).tickValues(d3.range(-10, 91, 5)).tickSize(-4).tickFormat(""));
const xMajor = svg.append("g").attr("transform", "translate(0,430)")
  .call(d3.axisBottom(x).tickValues(xTickValues).tickSize(-8).tickPadding(13).tickFormat(d3.format("d")));
const yMinor = svg.append("g").attr("transform", "translate(77,0)")
  .call(d3.axisLeft(y).tickValues(d3.range(-5, 41).map(v => v / 10)).tickSize(-6).tickFormat(""));
const yMajor = svg.append("g").attr("transform", "translate(77,0)")
  .call(d3.axisLeft(y).tickValues(yTickValues).tickSize(-6).tickPadding(11).tickFormat(d3.format("d")));
[xMinor, xMajor, yMinor, yMajor].forEach(g => {
  g.select(".domain").remove();
  g.selectAll(".tick line").attr("stroke", "#a8a8a8");
  g.selectAll("text").attr("font-family", labelFont).attr("font-size", 14).attr("fill", "#222");
});

// frame
svg.append("line").attr("x1", 77).attr("x2", 77).attr("y1", 11).attr("y2", 430).attr("stroke", frameCol);
svg.append("line").attr("x1", 77).attr("x2", 605).attr("y1", 11).attr("y2", 11).attr("stroke", frameCol);
svg.append("line").attr("x1", 77).attr("x2", 582).attr("y1", 430).attr("y2", 430).attr("stroke", frameCol);

// boundary line
svg.append("path")
  .datum(boundaryZ.map((z, i) => [z, boundaryR[i]]))
  .attr("d", d3.line().x(d => x(d[0])).y(d => y(d[1])))
  .attr("fill", "none").attr("stroke", "#111").attr("stroke-width", 2);

// VXD layers
layerNames.forEach((name, i) => {
  svg.append("line")
    .attr("x1", x(layerZStart[i])).attr("x2", x(layerZEnd[i]))
    .attr("y1", y(layerRadii[i])).attr("y2", y(layerRadii[i]))
    .attr("stroke", blue).attr("stroke-width", 2);
  svg.append("text").attr("x", 127).attr("y", y(layerRadii[i]) + 4.5)
    .attr("text-anchor", "end").attr("font-family", "'DejaVu Sans', sans-serif")
    .attr("font-weight", "bold").attr("font-size", 12).attr("fill", blue).text(name);
});

// titles
svg.append("text").attr("x", 249).attr("y", 50)
  .attr("font-family", "'DejaVu Sans', sans-serif").attr("font-weight", "bold")
  .attr("font-size", 28).attr("textLength", 191).attr("lengthAdjust", "spacingAndGlyphs")
  .attr("fill", "#000").text("T. Maruyama");
svg.append("text").attr("x", 419).attr("y", 419)
  .attr("font-family", "'DejaVu Sans', sans-serif").attr("font-weight", "bold")
  .attr("font-size", 35).attr("textLength", 122).attr("lengthAdjust", "spacingAndGlyphs")
  .attr("fill", "#000").text("B=5 T");

// axis titles
svg.append("text").attr("x", 330).attr("y", 472).attr("text-anchor", "middle")
  .attr("font-family", labelFont).attr("font-size", 15).attr("fill", "#222").text("Z (cm)");
const yt = svg.append("text").attr("transform", "translate(43,236) rotate(-90)")
  .attr("font-family", labelFont).attr("fill", "#222");
yt.append("tspan").attr("font-size", 14).text("R");
yt.append("tspan").attr("font-size", 10).attr("dy", -12).text("max");
yt.append("tspan").attr("font-size", 13).attr("dy", 12).attr("dx", 5).text("(cm)");
</script>
</body></html>
